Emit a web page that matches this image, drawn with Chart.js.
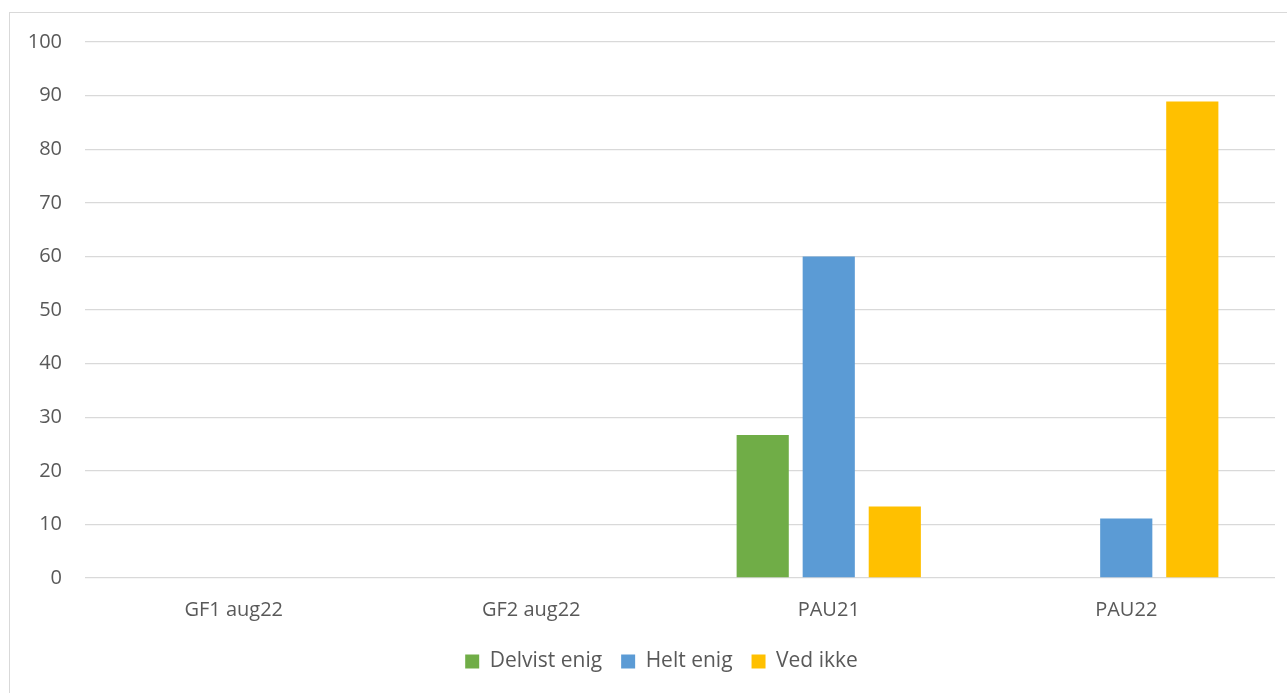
<!DOCTYPE html>
<html>
<head>
<meta charset="utf-8">
<script src="https://cdn.jsdelivr.net/npm/chart.js@4"></script>
<style>
  html, body { margin: 0; padding: 0; background: #fff; }
  #wrap { position: absolute; left: 0; top: 0; width: 1287px; height: 693px; }
</style>
</head>
<body>
<div id="wrap"><canvas id="c" width="1287" height="693"></canvas></div>
<script>
const categories = ["GF1 aug22", "GF2 aug22", "PAU21", "PAU22"];
const delvistEnig = [0, 0, 26.67, 0];
const heltEnig = [0, 0, 60, 11.11];
const vedIkke = [0, 0, 13.33, 88.89];
const yTicks = [0, 10, 20, 30, 40, 50, 60, 70, 80, 90, 100];

const FONT = "'Open Sans', 'Liberation Sans', sans-serif";
const TEXT = "#595959";
const GRID = "#D9D9D9";

const frame = {
  id: 'frame',
  beforeDraw(chart) {
    const ctx = chart.ctx;
    ctx.save();
    ctx.fillStyle = '#fff';
    ctx.fillRect(0, 0, chart.width, chart.height);
    ctx.strokeStyle = GRID;
    ctx.lineWidth = 1;
    ctx.strokeRect(9.5, 12.5, 1300, 700);
    ctx.restore();
  }
};

const legendShift = {
  id: 'legendShift',
  afterLayout(chart) {
    if (chart.legend) chart.legend.left += 48;
  }
};

new Chart(document.getElementById('c'), {
  type: 'bar',
  data: {
    labels: categories,
    datasets: [
      { label: 'Delvist enig', data: delvistEnig, backgroundColor: '#70AD47' },
      { label: 'Helt enig', data: heltEnig, backgroundColor: '#5B9BD5' },
      { label: 'Ved ikke', data: vedIkke, backgroundColor: '#FFC000' }
    ]
  },
  options: {
    responsive: false,
    animation: false,
    devicePixelRatio: 1,
    layout: { padding: { left: 0, right: 12, top: 42, bottom: 11 } },
    datasets: { bar: { categoryPercentage: 0.666, barPercentage: 0.79 } },
    plugins: {
      legend: {
        position: 'bottom',
        labels: {
          font: { family: FONT, size: 21 },
          color: TEXT,
          boxWidth: 14,
          boxHeight: 14,
          padding: 19
        }
      },
      tooltip: { enabled: false }
    },
    scales: {
      x: {
        grid: { display: false },
        border: { display: false },
        ticks: { font: { family: FONT, size: 20 }, color: TEXT, padding: 12 },
        afterFit(s) { s.height = 54; }
      },
      y: {
        min: 0,
        max: 100,
        afterBuildTicks(s) { s.ticks = yTicks.map(v => ({ value: v })); },
        grid: { color: GRID, lineWidth: 1.3, drawTicks: false },
        border: { display: false },
        ticks: { font: { family: FONT, size: 20 }, color: TEXT, padding: 23 },
        afterFit(s) { s.width = 85; }
      }
    }
  },
  plugins: [frame, legendShift]
});
</script>
</body>
</html>
